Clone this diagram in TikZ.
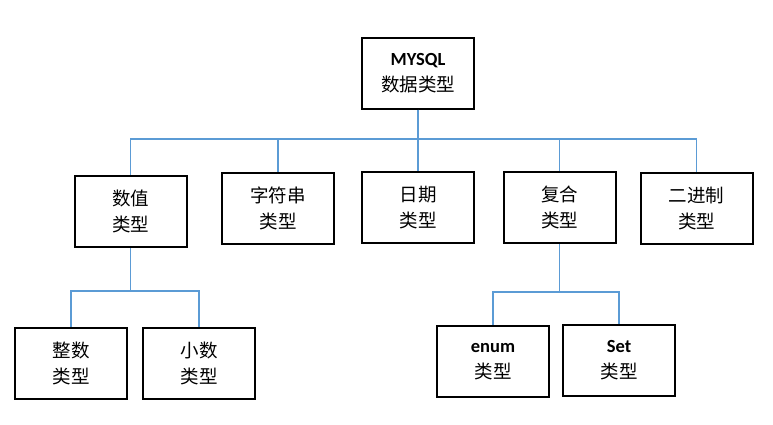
\documentclass[tikz,border=0pt]{standalone}
\usepackage{fontspec}
\setmainfont{Carlito}
\newfontfamily\cjk{Noto Sans CJK SC}
\definecolor{linkblue}{HTML}{5B9BD5}
\begin{document}
\begin{tikzpicture}[x=1pt,y=-1pt]
    \tikzstyle{every node}=[draw,shape=rectangle,line width=2pt,minimum width=112pt,minimum height=71pt,inner sep=0pt,align=center,font=\fontsize{18.5}{26}\selectfont];
    \tikzstyle{link}=[draw=linkblue,line width=1.5pt];
    \useasboundingbox (0,0) rectangle (773,425);
    \node at (418, 73.5)  (root) {\textbf{MYSQL}\\{\cjk 数据类型}};
    \node at (130.5, 211.5)  (tnum) {{\cjk 数值}\\{\cjk 类型}};
    \node at (278, 208)  (tstr) {{\cjk 字符串}\\{\cjk 类型}};
    \node at (418, 207.5)  (tdate) {{\cjk 日期}\\{\cjk 类型}};
    \node at (559.5, 207.5)  (tcomp) {{\cjk 复合}\\{\cjk 类型}};
    \node at (696.5, 208.5)  (tbin) {{\cjk 二进制}\\{\cjk 类型}};
    \node at (71, 363)  (tint) {{\cjk 整数}\\{\cjk 类型}};
    \node at (199, 363)  (tdec) {{\cjk 小数}\\{\cjk 类型}};
    \node at (493, 361.5)  (tenum) {\textbf{enum}\\{\cjk 类型}};
    \node at (619, 360.5)  (tset) {\textbf{Set}\\{\cjk 类型}};
\draw[link] (root.south) -- ++(0,29) -| (tnum.north);
\draw[link] (root.south) -- ++(0,29) -| (tstr.north);
\draw[link] (root.south) -- (tdate.north);
\draw[link] (root.south) -- ++(0,29) -| (tcomp.north);
\draw[link] (root.south) -- ++(0,29) -| (tbin.north);
\draw[link] (tnum.south) -- ++(0,43) -| (tint.north);
\draw[link] (tnum.south) -- ++(0,43) -| (tdec.north);
\draw[link] (tcomp.south) -- ++(0,48) -| (tenum.north);
\draw[link] (tcomp.south) -- ++(0,48) -| (tset.north);
\end{tikzpicture}
\end{document}
